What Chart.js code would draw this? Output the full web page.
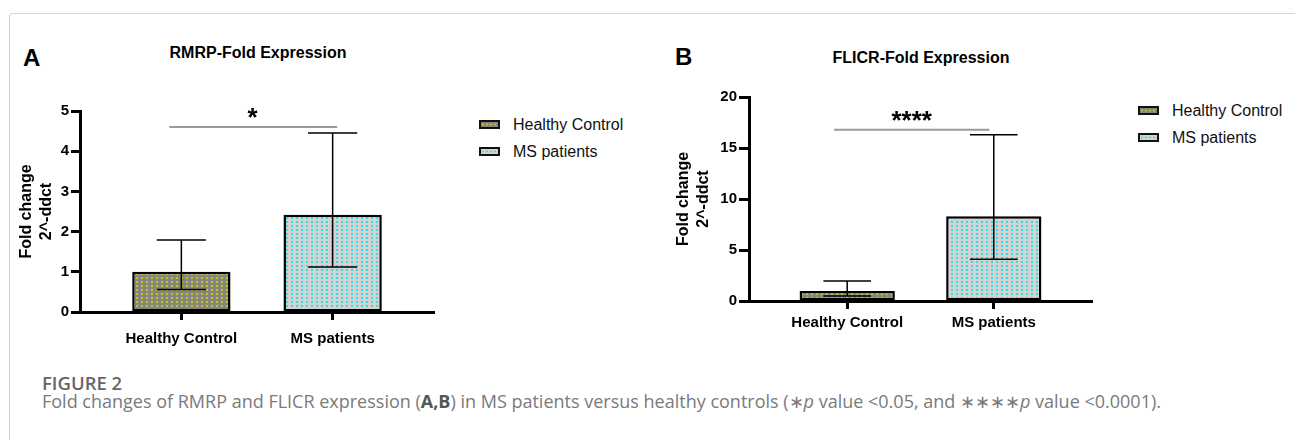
<!DOCTYPE html>
<html>
<head>
<meta charset="utf-8">
<script src="https://cdn.jsdelivr.net/npm/chart.js@4.4.0/dist/chart.umd.min.js"></script>
<style>
  body { margin: 0; width: 1295px; height: 440px; background: #fff; position: relative; overflow: hidden;
         font-family: "Liberation Sans", Arial, sans-serif; }
  .frame { position: absolute; left: 9px; top: 13px; width: 1320px; height: 460px;
           border: 1.5px solid #d4d4d4; border-radius: 3px; }
  .letter { position: absolute; font-weight: bold; font-size: 24px; line-height: 24px; color: #000; }
  .title { position: absolute; font-weight: bold; font-size: 16px; line-height: 20px; white-space: nowrap;
           transform: translateX(-50%); color: #000; }
  canvas { position: absolute; top: 0; }
  .legend { position: absolute; font-size: 16px; color: #111; }
  .legend .item { display: flex; align-items: center; height: 27px; white-space: nowrap; }
  .legend .sw { width: 17px; height: 5px; border: 2px solid #111; margin-right: 13px; }
  .fig { position: absolute; left: 42px; top: 372px; font-family: "Open Sans", sans-serif; font-weight: 600;
         font-size: 18.5px; line-height: 22px; color: #666; }
  .cap { position: absolute; left: 42px; top: 390px; font-family: "Open Sans", sans-serif; font-weight: 400;
         font-size: 18px; line-height: 22px; color: #7a7a7a; white-space: nowrap; }
  .cap b { color: #555; }
</style>
</head>
<body>
<div class="frame"></div>

<div class="letter" style="left:23px; top:46px;">A</div>
<div class="title" style="left:258px; top:43px;">RMRP-Fold Expression</div>
<canvas id="chartA" width="440" height="360" style="left:0px;"></canvas>
<div class="legend" id="legendA" style="left:479px; top:111px;"></div>

<div class="letter" style="left:675px; top:45px;">B</div>
<div class="title" style="left:921px; top:48px;">FLICR-Fold Expression</div>
<canvas id="chartB" width="440" height="360" style="left:660px;"></canvas>
<div class="legend" id="legendB" style="left:1138px; top:97px;"></div>

<div class="fig">FIGURE 2</div>
<div class="cap">Fold changes of RMRP and FLICR expression (<b>A,B</b>) in MS patients versus healthy controls (∗<i>p</i> value &lt;0.05, and ∗∗∗∗<i>p</i> value &lt;0.0001).</div>

<script>
// data
const categories = ['Healthy Control', 'MS patients'];

const rmrpMean = [1.0, 2.42];
const rmrpUpper = [1.79, 4.45];
const rmrpLower = [0.56, 1.12];
const rmrpTicks = [0, 1, 2, 3, 4, 5];

const flicrMean = [0.98, 8.3];
const flicrUpper = [1.95, 16.3];
const flicrLower = [0.5, 4.1];
const flicrTicks = [0, 5, 10, 15, 20];

const sigMarks = ['*', '****'];
const sigLevels = [4.6, 16.8];

const yTitle = ['Fold change', '2^-ddct'];

// bar colours: base + dot
const barColors = [['#87867e', '#c4c424'], ['#d3d3d3', '#2fdede']];

Chart.defaults.font.family = '"Liberation Sans", Arial, sans-serif';

function dotPattern(bg, dot) {
    const c = document.createElement('canvas');
    c.width = 5;
    c.height = 4;
    const g = c.getContext('2d');
    g.fillStyle = bg;
    g.fillRect(0, 0, 5, 4);
    g.fillStyle = dot;
    g.fillRect(1, 1, 2, 2);
    return g.createPattern(c, 'repeat');
}

// error bars (upper / lower whiskers with caps)
const errorBarPlugin = {
    id: 'errorBars',
    afterDatasetsDraw(chart, args, opts) {
        const ctx = chart.ctx;
        const y = chart.scales.y;
        const meta = chart.getDatasetMeta(0);
        ctx.save();
        ctx.strokeStyle = '#000';
        ctx.lineWidth = 1.5;
        meta.data.forEach((bar, i) => {
            const half = bar.width * 0.25;
            const yTop = y.getPixelForValue(opts.upper[i]);
            const yBot = y.getPixelForValue(opts.lower[i]);
            ctx.beginPath();
            ctx.moveTo(bar.x, yTop);
            ctx.lineTo(bar.x, yBot);
            ctx.moveTo(bar.x - half, yTop);
            ctx.lineTo(bar.x + half, yTop);
            ctx.moveTo(bar.x - half, yBot);
            ctx.lineTo(bar.x + half, yBot);
            ctx.stroke();
        });
        ctx.restore();
    }
};

// significance bracket + asterisks
const sigPlugin = {
    id: 'sigBar',
    afterDatasetsDraw(chart, args, opts) {
        const ctx = chart.ctx;
        const x = chart.scales.x, y = chart.scales.y;
        const py = y.getPixelForValue(opts.level);
        ctx.save();
        ctx.strokeStyle = '#9a9a9a';
        ctx.lineWidth = 2;
        ctx.beginPath();
        ctx.moveTo(x.getPixelForValue(opts.from), py);
        ctx.lineTo(x.getPixelForValue(opts.to), py);
        ctx.stroke();
        ctx.fillStyle = '#000';
        ctx.font = 'bold 26px "Liberation Sans", Arial, sans-serif';
        ctx.textAlign = 'center';
        ctx.textBaseline = 'alphabetic';
        ctx.fillText(opts.mark, x.getPixelForValue(opts.markX), py - 1);
        ctx.restore();
    }
};

function makeChart(id, cfg) {
    const ctx = document.getElementById(id).getContext('2d');
    const fills = barColors.map(c => dotPattern(c[0], c[1]));
    return new Chart(ctx, {
        type: 'bar',
        data: {
            datasets: [{
                data: cfg.mean.map((v, i) => ({ x: i, y: v })),
                backgroundColor: fills,
                borderColor: '#000',
                borderWidth: 2.5,
                borderSkipped: false,
                barPercentage: 0.65,
                categoryPercentage: 1
            }]
        },
        options: {
            responsive: false,
            animation: false,
            devicePixelRatio: 1,
            layout: { padding: cfg.padding },
            plugins: {
                legend: { display: false },
                tooltip: { enabled: false },
                errorBars: { upper: cfg.upper, lower: cfg.lower },
                sigBar: cfg.sig
            },
            scales: {
                x: {
                    type: 'linear',
                    min: -0.67,
                    max: 1.67,
                    bounds: 'data',
                    offset: false,
                    afterBuildTicks: s => { s.ticks = categories.map((_, i) => ({ value: i })); },
                    afterFit: s => { s.height = 40; },
                    ticks: {
                        callback: v => categories[v],
                        font: { size: 15, weight: 'bold' },
                        color: '#000',
                        padding: cfg.xPad,
                        maxRotation: 0,
                        autoSkip: false
                    },
                    grid: { offset: false, drawOnChartArea: false, color: '#000', tickLength: 8, tickWidth: 3, z: 1 },
                    border: { color: '#000', width: 3, z: 1 }
                },
                y: {
                    min: 0,
                    max: cfg.ticks[cfg.ticks.length - 1],
                    afterBuildTicks: s => { s.ticks = cfg.ticks.map(v => ({ value: v })); },
                    afterFit: s => { s.width = cfg.yWidth; },
                    ticks: { font: { size: 15, weight: 'bold' }, color: '#000', padding: 2 },
                    grid: { drawOnChartArea: false, color: '#000', tickLength: cfg.tickLen, tickWidth: 3, z: 1 },
                    border: { color: '#000', width: 3, z: 1 },
                    title: {
                        display: true,
                        text: yTitle,
                        color: '#000',
                        font: { size: 16, weight: 'bold', lineHeight: 1.25 },
                        padding: { top: cfg.titlePad, bottom: 0 }
                    }
                }
            }
        },
        plugins: [errorBarPlugin, sigPlugin]
    });
}

function makeLegend(id) {
    const box = document.getElementById(id);
    categories.forEach((name, i) => {
        const item = document.createElement('div');
        item.className = 'item';
        const sw = document.createElement('span');
        sw.className = 'sw';
        sw.style.background = `radial-gradient(circle, ${barColors[i][1]} 0.9px, transparent 1.2px) 0 0 / 4px 5px, ${barColors[i][0]}`;
        const label = document.createElement('span');
        label.textContent = name;
        item.appendChild(sw);
        item.appendChild(label);
        box.appendChild(item);
    });
}

makeChart('chartA', {
    mean: rmrpMean, upper: rmrpUpper, lower: rmrpLower, ticks: rmrpTicks,
    padding: { top: 111, right: 6, bottom: 8, left: 0 },
    yWidth: 80, titlePad: 17, xPad: 10, tickLen: 9,
    sig: { level: sigLevels[0], mark: sigMarks[0], from: -0.08, to: 1.03, markX: 0.47 }
});

makeChart('chartB', {
    mean: flicrMean, upper: flicrUpper, lower: flicrLower, ticks: flicrTicks,
    padding: { top: 97, right: 8, bottom: 19, left: 0 },
    yWidth: 89, titlePad: 14, xPad: 5, tickLen: 10,
    sig: { level: sigLevels[1], mark: sigMarks[1], from: -0.09, to: 0.97, markX: 0.44 }
});

makeLegend('legendA');
makeLegend('legendB');
</script>
</body>
</html>
